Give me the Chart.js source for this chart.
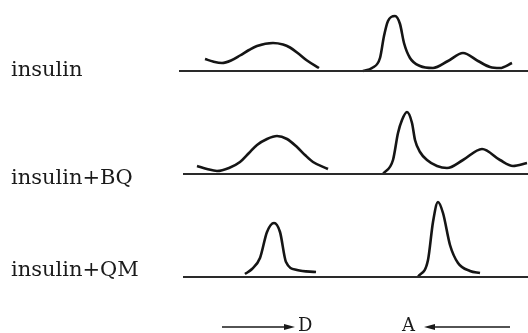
<!DOCTYPE html>
<html>
<head>
<meta charset="utf-8">
<title>insulin</title>
<script src="https://cdn.jsdelivr.net/npm/chart.js@4.4.1/dist/chart.umd.min.js"></script>
<style>
  body { margin: 0; background: #fff; }
</style>
</head>
<body>
<canvas id="grafico" width="528" height="333"></canvas>
<script>
//---------------
// Datos: [posicion, altura]
//---------------
const pistas = ['insulin', 'insulin+BQ', 'insulin+QM'];

const insulinD  = [[26,12],[34,9.5],[43,8],[52,10.5],[61,15.5],[70,21],[78,25],[94,28],[104,26.5],[111,23.5],[120,17],[128,10.5],[140,3]];
const insulinA  = [[184,0],[193,3],[201,13],[205,35],[209,50],[216,55],[221,47],[225,28],[231,13],[241,5],[254,3],[269,10],[284,18],[299,10],[311,4],[321,3],[333,8]];

const insulinBQD = [[18,8],[28,5],[38,3],[50,6],[61,12],[70,21],[78,29],[88,35],[98,38],[108,35],[118,27],[126,19],[134,12],[149,5]];
const insulinBQA = [[204,0],[214,14],[219,41],[223,54],[228,62],[233,51],[236,34],[241,22],[248,14],[258,8],[268,6],[284,14],[303,25],[321,14],[334,8],[348,11]];

const insulinQMD = [[66,3],[73,8],[81,19],[88,45],[95,54],[101,45],[107,15],[118,7],[137,5]];
const insulinQMA = [[239,0],[249,17],[254,55],[259,75],[264,64],[271,32],[279,14],[291,6],[301,4]];

const lineaBase = [[[0,0],[349,0]], [[4,0],[349,0]], [[4,0],[349,0]]];

//---------------
// Construir datasets
//---------------
const aPuntos = arr => arr.map(p => ({ x: p[0], y: p[1] }));

function traza(arr, eje) {
  return {
    data: aPuntos(arr), yAxisID: eje,
    borderColor: '#151515', borderWidth: 2.6,
    pointRadius: 0, fill: false, cubicInterpolationMode: 'monotone'
  };
}
function base(arr, eje) {
  return { data: aPuntos(arr), yAxisID: eje, borderColor: '#2a2a2a', borderWidth: 2, pointRadius: 0, fill: false };
}

const datasets = [
  base(lineaBase[0], 'y1'), traza(insulinD, 'y1'), traza(insulinA, 'y1'),
  base(lineaBase[1], 'y2'), traza(insulinBQD, 'y2'), traza(insulinBQA, 'y2'),
  base(lineaBase[2], 'y3'), traza(insulinQMD, 'y3'), traza(insulinQMA, 'y3')
];

// eje vertical por pista, apilados
function ejePista(nombre, min, max, peso, orden, posEtiqueta) {
  return {
    type: 'linear', position: 'left', stack: 'pistas', stackWeight: peso, weight: orden,
    min: min, max: max,
    grid: { display: false }, border: { display: false },
    afterBuildTicks: s => { s.ticks = [{ value: posEtiqueta }]; },
    afterFit: s => { s.width = 168; s.paddingTop = 0; s.paddingBottom = 0; },
    ticks: {
      crossAlign: 'far', color: '#1a1a1a',
      font: { family: 'DejaVu Serif', size: 21 },
      callback: () => nombre
    }
  };
}

//---------------
// Flechas de direccion (D / A)
//---------------
const flechas = {
  id: 'flechas',
  afterDraw(chart) {
    const ctx = chart.ctx;
    const y = 327;
    ctx.save();
    ctx.strokeStyle = '#1a1a1a';
    ctx.fillStyle = '#1a1a1a';
    ctx.lineWidth = 1.5;
    ctx.beginPath(); ctx.moveTo(222, y); ctx.lineTo(288, y); ctx.stroke();
    ctx.beginPath(); ctx.moveTo(295, y); ctx.lineTo(284, y - 3); ctx.lineTo(284, y + 3); ctx.closePath(); ctx.fill();
    ctx.beginPath(); ctx.moveTo(432, y); ctx.lineTo(510, y); ctx.stroke();
    ctx.beginPath(); ctx.moveTo(424, y); ctx.lineTo(435, y - 3); ctx.lineTo(435, y + 3); ctx.closePath(); ctx.fill();
    ctx.font = '18px "DejaVu Serif"';
    ctx.textBaseline = 'middle';
    ctx.textAlign = 'left';
    ctx.fillText('D', 298, y - 1);
    ctx.fillText('A', 402, y - 1);
    ctx.restore();
  }
};

const grafico = new Chart(document.getElementById('grafico'), {
  type: 'line',
  data: { datasets: datasets },
  options: {
    responsive: false, animation: false,
    layout: { padding: { left: 11, right: 0, top: 0, bottom: 33 } },
    plugins: { legend: { display: false }, tooltip: { enabled: false } },
    scales: {
      x: { type: 'linear', min: 0, max: 349, display: false },
      y1: ejePista(pistas[0], -34, 71, 105, 3, 0),
      y2: ejePista(pistas[1], -21, 69, 90, 2, -5),
      y3: ejePista(pistas[2], -23, 82, 105, 1, 6)
    }
  },
  plugins: [flechas]
});
</script>
</body>
</html>
